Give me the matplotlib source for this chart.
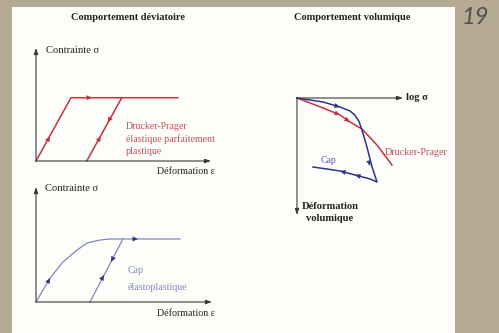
import matplotlib.pyplot as plt
from matplotlib.patches import Rectangle

W, H = 499, 333

# deviatoric behaviour, Drucker-Prager (strain, stress)
dp_eps = [0, 0.20, 0.81]
dp_sig = [0, 0.56, 0.56]
dp_unload_eps = [0.29, 0.49]
dp_unload_sig = [0, 0.56]
dp_arrows = [(0.08, 0.22, 0.20, 0.56), (0.32, 0.56, 1, 0),
             (0.41, 0.34, -0.20, -0.56), (0.37, 0.22, 0.20, 0.56)]

# deviatoric behaviour, Cap
cap_eps = [0, 0.080, 0.153, 0.233, 0.290, 0.364, 0.420, 0.818]
cap_sig = [0, 0.209, 0.348, 0.452, 0.513, 0.539, 0.548, 0.548]
cap_unload_eps = [0.307, 0.494]
cap_unload_sig = [0, 0.548]
cap_arrows = [(0.08, 0.209, 0.074, 0.209), (0.58, 0.548, 1, 0),
              (0.426, 0.348, -0.187, -0.548), (0.386, 0.235, 0.187, 0.548)]

# volumetric behaviour (log sigma, volumetric strain)
vol_dp_x = [0, 0.245, 0.406, 0.5, 0.613, 0.755, 0.896]
vol_dp_y = [0, 0.085, 0.145, 0.205, 0.265, 0.402, 0.573]
vol_cap_x = [0, 0.245, 0.406, 0.5, 0.545, 0.585, 0.613, 0.660, 0.708, 0.755,
             0.689, 0.547, 0.406, 0.283, 0.151]
vol_cap_y = [0, 0.034, 0.077, 0.111, 0.145, 0.200, 0.274, 0.419, 0.590, 0.718,
             0.692, 0.658, 0.624, 0.607, 0.590]
vol_dp_arrows = [(0.406, 0.145, 0.16, 0.06), (0.5, 0.205, 0.1, 0.06)]
vol_cap_arrows = [(0.406, 0.077, 0.16, 0.04), (0.689, 0.581, 0.05, 0.17),
                  (0.547, 0.658, -0.14, -0.034), (0.406, 0.624, -0.14, -0.034)]

RED = "#c8303e"
RED_TXT = "#c0505c"
BLUE = "#2e3482"
BLUE_LIGHT = "#8088c0"
AX = "#3a3a3a"
SERIF = "Liberation Serif"

fig = plt.figure(figsize=(W / 100, H / 100), dpi=100)
fig.patch.set_facecolor("#b5aa93")
fig.patches.append(Rectangle((12 / W, 0), (455 - 12) / W, 1 - 7 / H,
                             transform=fig.transFigure, facecolor="#fdfdfa",
                             edgecolor="none", zorder=-5))


def box(x0, y0, x1, y1):
    ax = fig.add_axes([x0 / W, 1 - y1 / H, (x1 - x0) / W, (y1 - y0) / H])
    ax.set_xlim(0, 1)
    ax.set_ylim(0, 1)
    ax.axis("off")
    return ax


def axis_arrow(ax, start, end):
    ax.annotate("", xy=end, xytext=start, annotation_clip=False,
                arrowprops=dict(arrowstyle="-|>,head_length=0.35,head_width=0.12",
                                color=AX, lw=0.8, shrinkA=0, shrinkB=0))


def marks(ax, pts, color):
    for x, y, dx, dy in pts:
        n = (dx ** 2 + dy ** 2) ** 0.5
        ax.annotate("", xy=(x, y), xytext=(x - 0.01 * dx / n, y - 0.01 * dy / n),
                    annotation_clip=False,
                    arrowprops=dict(arrowstyle="-|>,head_length=0.4,head_width=0.18",
                                    color=color, lw=0, shrinkA=0, shrinkB=0))


# titles
fig.text(128 / W, 1 - 17 / H, "Comportement déviatoire", ha="center", va="center",
         fontsize=7.5, fontweight="bold", family=SERIF, color="#222")
fig.text(352 / W, 1 - 18 / H, "Comportement volumique", ha="center", va="center",
         fontsize=7.5, fontweight="bold", family=SERIF, color="#222")
fig.text(475 / W, 1 - 18 / H, "19", ha="center", va="center", fontsize=17,
         style="italic", family="Lato", color="#505050")

# top-left: Drucker-Prager
ax1 = box(36, 48, 211, 161)
axis_arrow(ax1, (0, 0), (0, 1))
axis_arrow(ax1, (0, 0), (1, 0))
ax1.plot(dp_eps, dp_sig, color=RED, lw=1.1, clip_on=False)
ax1.plot(dp_unload_eps, dp_unload_sig, color=RED, lw=1.1, clip_on=False)
marks(ax1, dp_arrows, RED)
ax1.text(0.057, 0.98, "Contrainte σ", ha="left", va="center", fontsize=7.6,
         family=SERIF, color="#222")
ax1.text(1.02, -0.097, "Déformation ε", ha="right", va="center", fontsize=7.2,
         family=SERIF, color="#222")
ax1.text(0.514, 0.195, "Drucker-Prager\nélastique parfaitement\nplastique",
         ha="left", va="center", fontsize=7.1, family=SERIF, color=RED_TXT,
         linespacing=1.4)

# bottom-left: Cap
ax2 = box(36, 187, 212, 302)
axis_arrow(ax2, (0, 0), (0, 1))
axis_arrow(ax2, (0, 0), (1, 0))
ax2.plot(cap_eps, cap_sig, color=BLUE_LIGHT, lw=0.9, clip_on=False)
ax2.plot(cap_unload_eps, cap_unload_sig, color=BLUE_LIGHT, lw=0.9, clip_on=False)
marks(ax2, cap_arrows, BLUE)
ax2.text(0.051, 0.983, "Contrainte σ", ha="left", va="center", fontsize=7.6,
         family=SERIF, color="#222")
ax2.text(1.017, -0.096, "Déformation ε", ha="right", va="center", fontsize=7.2,
         family=SERIF, color="#222")
ax2.text(0.523, 0.27, "Cap", ha="left", va="center", fontsize=7.1,
         family=SERIF, color=BLUE_LIGHT)
ax2.text(0.523, 0.13, "élastoplastique", ha="left", va="center", fontsize=7.1,
         family=SERIF, color=BLUE_LIGHT)

# right: volumetric
ax3 = box(297, 98, 403, 215)
ax3.set_ylim(1, 0)
axis_arrow(ax3, (0, 0), (1, 0))
axis_arrow(ax3, (0, 0), (0, 1))
ax3.plot(vol_dp_x, vol_dp_y, color=RED, lw=1.1, clip_on=False)
ax3.plot(vol_cap_x, vol_cap_y, color=BLUE, lw=1.1, clip_on=False)
marks(ax3, vol_dp_arrows, RED)
marks(ax3, vol_cap_arrows, BLUE)
ax3.text(1.03, 0, "log σ", ha="left", va="center", fontsize=7.6,
         fontweight="bold", family=SERIF, color="#222")
ax3.text(0.83, 0.47, "Drucker-Prager", ha="left", va="center", fontsize=7.3,
         family=SERIF, color=RED_TXT)
ax3.text(0.30, 0.53, "Cap", ha="center", va="center", fontsize=7,
         family=SERIF, color="#5a60a8")
ax3.text(0.31, 0.98, "Déformation\nvolumique", ha="center", va="center",
         fontsize=7.6, fontweight="bold", family=SERIF, color="#222",
         linespacing=1.45)

fig.savefig("out.png", dpi=100)
